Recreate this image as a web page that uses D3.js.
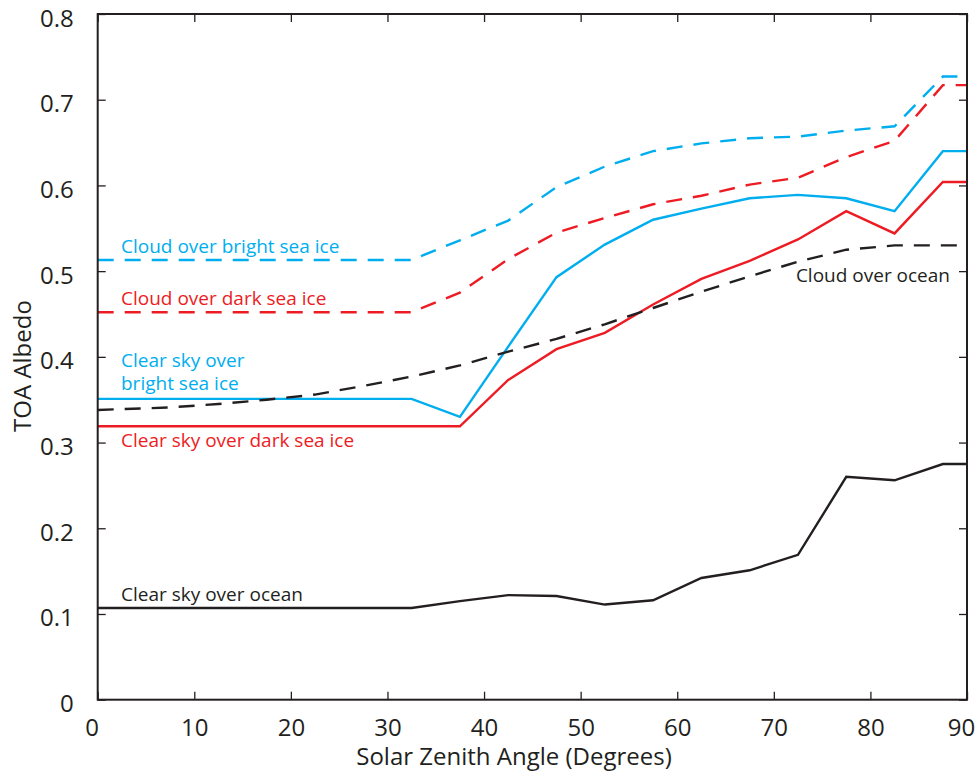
<!DOCTYPE html>
<html>
<head>
<meta charset="utf-8">
<script src="https://cdn.jsdelivr.net/npm/d3@7"></script>
<style>
  html, body { margin: 0; padding: 0; background: #fff; }
  svg { display: block; }
  text { font-family: "Open Sans", "Noto Sans", sans-serif; }
</style>
</head>
<body>
<svg id="chart" width="978" height="771"></svg>
<script>
// ---- Data ----
const angles = [0, 2.5, 7.5, 12.5, 17.5, 22.5, 27.5, 32.5, 37.5, 42.5, 47.5, 52.5, 57.5, 62.5, 67.5, 72.5, 77.5, 82.5, 87.5, 90];

const cloudBrightIce = [0.513, 0.513, 0.513, 0.513, 0.513, 0.513, 0.513, 0.513, 0.536, 0.559, 0.598, 0.622, 0.640, 0.649, 0.655, 0.657, 0.664, 0.669, 0.727, 0.727];
const cloudDarkIce   = [0.452, 0.452, 0.452, 0.452, 0.452, 0.452, 0.452, 0.452, 0.475, 0.514, 0.545, 0.562, 0.578, 0.588, 0.601, 0.609, 0.633, 0.652, 0.717, 0.717];
const clearBrightIce = [0.351, 0.351, 0.351, 0.351, 0.351, 0.351, 0.351, 0.351, 0.330, 0.412, 0.493, 0.531, 0.560, 0.573, 0.585, 0.589, 0.585, 0.570, 0.640, 0.640];
const clearDarkIce   = [0.319, 0.319, 0.319, 0.319, 0.319, 0.319, 0.319, 0.319, 0.319, 0.373, 0.409, 0.428, 0.461, 0.491, 0.512, 0.537, 0.570, 0.544, 0.604, 0.604];
const cloudOcean     = [0.338, 0.339, 0.341, 0.345, 0.350, 0.356, 0.366, 0.377, 0.390, 0.406, 0.421, 0.438, 0.457, 0.476, 0.494, 0.511, 0.525, 0.530, 0.530, 0.530];
const clearOcean     = [0.107, 0.107, 0.107, 0.107, 0.107, 0.107, 0.107, 0.107, 0.115, 0.122, 0.121, 0.111, 0.116, 0.142, 0.151, 0.169, 0.260, 0.256, 0.275, 0.275];

const xTicks = [0, 10, 20, 30, 40, 50, 60, 70, 80, 90];
const yTicks = [0, 0.1, 0.2, 0.3, 0.4, 0.5, 0.6, 0.7, 0.8];
const seriesNames = ["Cloud over bright sea ice", "Cloud over dark sea ice", "Clear sky over bright sea ice", "Clear sky over dark sea ice", "Cloud over ocean", "Clear sky over ocean"];
const xTitle = "Solar Zenith Angle (Degrees)";
const yTitle = "TOA Albedo";

// ---- Layout ----
const CYAN = "#00aeef", RED = "#ed1c24", INK = "#231f20";
const mLeft = 97.7, mRight = 967, mTop = 14, mBottom = 699.7;

const svg = d3.select("#chart");
const x = d3.scaleLinear().domain([0, 90]).range([mLeft, mRight]);
const y = d3.scaleLinear().domain([0, 0.8]).range([mBottom, mTop]);

const series = [
  { name: seriesNames[0], values: cloudBrightIce, color: CYAN, dash: "16,11" },
  { name: seriesNames[1], values: cloudDarkIce,   color: RED,  dash: "16,11" },
  { name: seriesNames[2], values: clearBrightIce, color: CYAN, dash: null },
  { name: seriesNames[3], values: clearDarkIce,   color: RED,  dash: null },
  { name: seriesNames[4], values: cloudOcean,     color: INK,  dash: "16,11" },
  { name: seriesNames[5], values: clearOcean,     color: INK,  dash: null }
];

const line = d3.line().x(d => x(d[0])).y(d => y(d[1]));
const plot = svg.append("g");
series.forEach(s => {
  plot.append("path")
    .datum(angles.map((a, i) => [a, s.values[i]]))
    .attr("d", line)
    .attr("fill", "none")
    .attr("stroke", s.color)
    .attr("stroke-width", 2.4)
    .attr("stroke-linejoin", "miter")
    .attr("stroke-dasharray", s.dash);
});

// ---- Axes (box with inward ticks) ----
const tickLen = 8;
const axisStyle = g => {
  g.select(".domain").remove();
  g.selectAll(".tick line").attr("stroke", INK).attr("stroke-width", 1.3);
};
svg.append("g").attr("transform", `translate(0,${mBottom})`)
  .call(d3.axisBottom(x).tickValues(xTicks).tickSize(-tickLen).tickPadding(19).tickFormat(d3.format("d")))
  .call(axisStyle)
  .call(g => g.selectAll(".tick text").attr("font-size", 24).attr("fill", INK).attr("dy", "0.71em")
        .attr("font-family", "'Open Sans', sans-serif")
        .attr("dx", d => d === 0 ? -6 : (d === 90 ? -6 : 0)));
svg.append("g").attr("transform", `translate(0,${mTop})`)
  .call(d3.axisTop(x).tickValues(xTicks).tickSize(-tickLen).tickFormat(""))
  .call(axisStyle);
svg.append("g").attr("transform", `translate(${mLeft},0)`)
  .call(d3.axisLeft(y).tickValues(yTicks).tickSize(-tickLen).tickPadding(24).tickFormat(d => d === 0 ? "0" : d3.format(".1f")(d)))
  .call(axisStyle)
  .call(g => g.selectAll(".tick text").attr("font-size", 24).attr("fill", INK).attr("dy", "0.5em")
        .attr("font-family", "'Open Sans', sans-serif"));
svg.append("g").attr("transform", `translate(${mRight},0)`)
  .call(d3.axisRight(y).tickValues(yTicks).tickSize(-tickLen).tickFormat(""))
  .call(axisStyle);

svg.append("rect")
  .attr("x", mLeft).attr("y", mTop)
  .attr("width", mRight - mLeft).attr("height", mBottom - mTop)
  .attr("fill", "none").attr("stroke", INK).attr("stroke-width", 2);

// ---- Axis titles ----
svg.append("text")
  .attr("x", 514).attr("y", 765)
  .attr("text-anchor", "middle").attr("font-size", 24).attr("fill", INK)
  .text(xTitle);
svg.append("text")
  .attr("transform", `translate(31,${366}) rotate(-90)`)
  .attr("text-anchor", "middle").attr("font-size", 24).attr("fill", INK)
  .text(yTitle);

// ---- Series labels ----
const labelSize = 19;
const labels = [
  { lines: ["Cloud over bright sea ice"], color: CYAN, x: 121, y: 253, anchor: "start" },
  { lines: ["Cloud over dark sea ice"], color: RED, x: 121, y: 305, anchor: "start" },
  { lines: ["Clear sky over", "bright sea ice"], color: CYAN, x: 121, y: 366.5, anchor: "start" },
  { lines: ["Clear sky over dark sea ice"], color: RED, x: 121, y: 446.5, anchor: "start" },
  { lines: ["Cloud over ocean"], color: INK, x: 950, y: 282, anchor: "end" },
  { lines: ["Clear sky over ocean"], color: INK, x: 121, y: 601, anchor: "start" }
];
labels.forEach(l => {
  const t = svg.append("text")
    .attr("x", l.x).attr("y", l.y)
    .attr("text-anchor", l.anchor)
    .attr("font-size", labelSize)
    .attr("fill", l.color);
  l.lines.forEach((s, i) => {
    t.append("tspan").attr("x", l.x).attr("dy", i === 0 ? 0 : 23.5).text(s);
  });
});
</script>
</body>
</html>
